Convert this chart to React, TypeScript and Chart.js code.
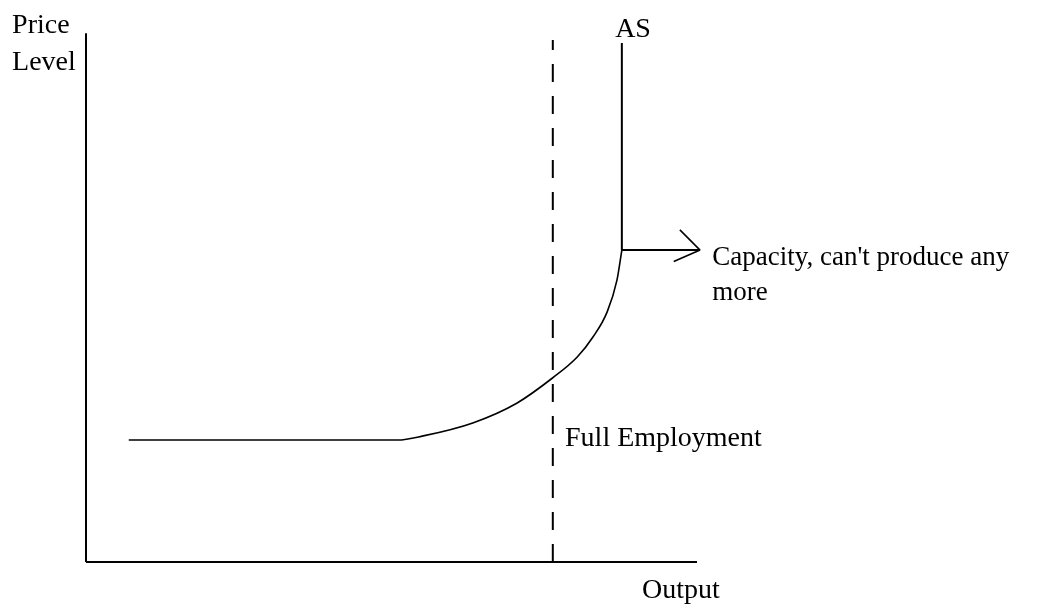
import React, { useEffect, useRef } from "react";
import { Chart, registerables } from "chart.js";

Chart.register(...registerables);

// Aggregate supply curve (output, price level)
const asOutput = [7, 51, 55.2, 63.3, 70.5, 76.4, 80.4, 83, 85.3, 86.9, 87.7];
const asPrice = [23.5, 23.5, 24.3, 26.8, 30.6, 35.5, 39.5, 43.4, 48.2, 54.3, 60.1];

// Vertical (capacity) part of AS
const capacityOutput = [87.7, 87.7];
const capacityPrice = [60.1, 100];

// Full employment output level
const fullEmploymentOutput = 76.4;
const fullEmploymentTop = 100.6;

// Axes extents
const yAxisTop = 101.9;
const xAxisRight = 100;

// Arrow pointing to the capacity label
const arrowX = [87.7, 100.5];
const arrowY = [60.1, 60.1];
const barbUpX = [100.5, 97.2];
const barbUpY = [60.1, 64.0];
const barbDownX = [100.5, 96.2];
const barbDownY = [60.1, 57.9];

// Text labels
const labelTexts = [
  "Price",
  "Level",
  "AS",
  "Capacity, can't produce any",
  "more",
  "Full Employment",
  "Output",
];
const labelX = [-12.1, -12.1, 86.6, 102.5, 102.5, 78.4, 91.0];
const labelY = [101.9, 94.8, 101.2, 57.2, 50.5, 22.4, -6.9];

const pts = (xs: number[], ys: number[]) => xs.map((x, i) => ({ x, y: ys[i] }));

const textPlugin = {
  id: "labels",
  afterDatasetsDraw(chart: any) {
    const { ctx, scales } = chart;
    ctx.save();
    ctx.fillStyle = "#000";
    ctx.textAlign = "left";
    ctx.textBaseline = "alphabetic";
    labelTexts.forEach((t, i) => {
      const size = i === 3 || i === 4 ? 27 : 28;
      ctx.font = `${size}px 'Liberation Serif', serif`;
      ctx.fillText(t, scales.x.getPixelForValue(labelX[i]), scales.y.getPixelForValue(labelY[i]));
    });
    ctx.restore();
  },
};

export default function App() {
  const ref = useRef<HTMLCanvasElement>(null);
  useEffect(() => {
    if (!ref.current) return;
    const line = (data: any[], width: number, extra: any = {}) => ({
      data,
      borderColor: "#000",
      borderWidth: width,
      pointRadius: 0,
      fill: false,
      clip: false,
      ...extra,
    });
    const chart = new Chart(ref.current, {
      type: "line",
      data: {
        datasets: [
          line(pts([0, 0], [0, yAxisTop]), 2),
          line(pts([0, xAxisRight], [0, 0]), 2),
          line(pts([fullEmploymentOutput, fullEmploymentOutput], [0, fullEmploymentTop]), 2, {
            borderDash: [18, 14],
          }),
          line(pts(asOutput, asPrice), 1.6, { cubicInterpolationMode: "monotone" }),
          line(pts(capacityOutput, capacityPrice), 2),
          line(pts(arrowX, arrowY), 2),
          line(pts(barbUpX, barbUpY), 1.6),
          line(pts(barbDownX, barbDownY), 1.6),
        ] as any,
      },
      options: {
        animation: false,
        responsive: false,
        layout: { padding: { left: 86, top: 43, right: 350, bottom: 46 } },
        plugins: { legend: { display: false }, tooltip: { enabled: false } },
        scales: {
          x: { type: "linear", min: 0, max: 100, display: false },
          y: { type: "linear", min: 0, max: 100, display: false },
        },
      },
      plugins: [textPlugin],
    });
    return () => chart.destroy();
  }, []);
  return (
    <div style={{ position: "fixed", left: 0, top: 0, width: 1047, height: 608, background: "#fff" }}>
      <canvas ref={ref} width={1047} height={608} />
    </div>
  );
}
